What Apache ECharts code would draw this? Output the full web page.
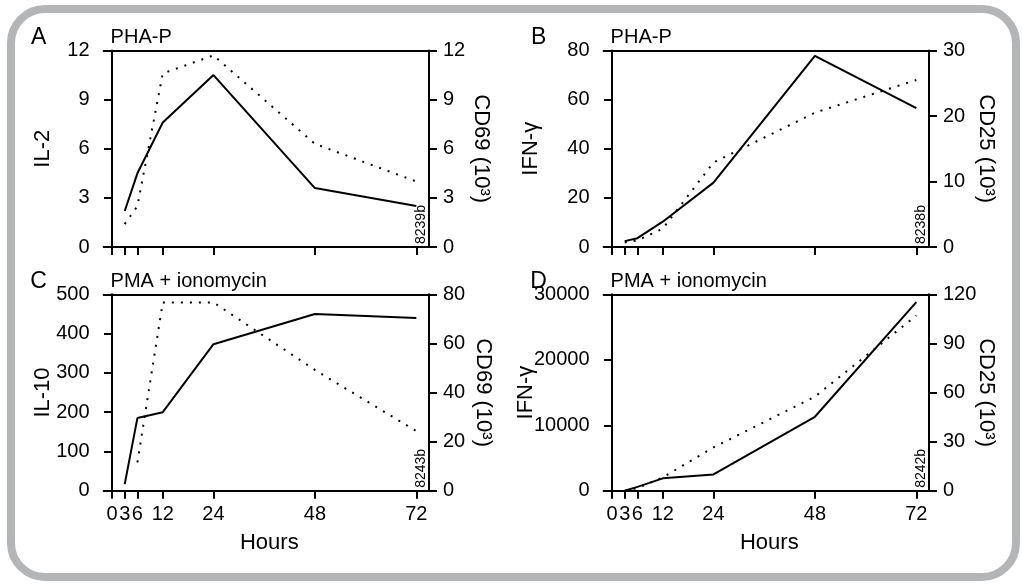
<!DOCTYPE html>
<html>
<head>
<meta charset="utf-8">
<title>Cytokine and activation marker kinetics</title>
<script src="https://cdn.jsdelivr.net/npm/echarts@6/dist/echarts.min.js"></script>
<style>
  html, body { margin: 0; padding: 0; background: #fff; }
  #chart { width: 1022px; height: 587px; }
</style>
</head>
<body>
<div id="chart"></div>
<script>
// time points (hours) and tick marks on the x axis
const hours = [3, 6, 12, 24, 48, 72];
const hourTicks = [0, 3, 6, 12, 24, 48, 72];

// A: PHA-P, IL-2 (solid) and CD69 x10^3 (dotted)
const il2A = [2.2, 4.5, 7.6, 10.5, 3.6, 2.5];
const cd69A = [1.4, 2.5, 10.6, 11.7, 6.3, 4.0];
// B: PHA-P, IFN-gamma (solid) and CD25 x10^3 (dotted)
const ifngB = [2.4, 3.6, 10.3, 26.2, 77.8, 56.5];
const cd25B = [0.7, 1.0, 2.8, 12.9, 20.5, 25.5];
// C: PMA + ionomycin, IL-10 (solid) and CD69 x10^3 (dotted)
const il10C = [17, 185, 200, 373, 450, 440];
const cd69C = [null, 11.6, 76.7, 76.7, 49.2, 24.3];
// D: PMA + ionomycin, IFN-gamma (solid) and CD25 x10^3 (dotted)
const ifngD = [0, 600, 1900, 2500, 11300, 28800];
const cd25D = [0, 1.6, 8.2, 26.5, 57.5, 107];

const ink = '#000';
const font = '"Liberation Sans", Arial, sans-serif';

const panels = [
  { letter: 'A', title: 'PHA-P', left: 103.6, top: 50.5,
    lName: 'IL-2', lMax: 12, lInt: 3, lGap: 50,
    rName: 'CD69 (10³)', rMax: 12, rInt: 3, rGap: 41,
    solid: il2A, dotted: cd69A, id: '8239b', hoursLabel: false },
  { letter: 'B', title: 'PHA-P', left: 603.6, top: 50.5,
    lName: 'IFN-γ', lMax: 80, lInt: 20, lGap: 62,
    rName: 'CD25 (10³)', rMax: 30, rInt: 10, rGap: 46,
    solid: ifngB, dotted: cd25B, id: '8238b', hoursLabel: false },
  { letter: 'C', title: 'PMA + ionomycin', left: 103.6, top: 294.3,
    lName: 'IL-10', lMax: 500, lInt: 100, lGap: 50,
    rName: 'CD69 (10³)', rMax: 80, rInt: 20, rGap: 43,
    solid: il10C, dotted: cd69C, id: '8243b', hoursLabel: true },
  { letter: 'D', title: 'PMA + ionomycin', left: 603.6, top: 294.3,
    lName: 'IFN-γ', lMax: 30000, lInt: 10000, lGap: 67,
    rName: 'CD25 (10³)', rMax: 120, rInt: 30, rGap: 46,
    solid: ifngD, dotted: cd25D, id: '8242b', hoursLabel: true }
];

const lineW = 2;
const axisLine = { lineStyle: { color: ink, width: lineW } };
const axisTick = { length: 8, lineStyle: { color: ink, width: lineW } };

function pairs(vals) {
  return hours.map((h, i) => [h, vals[i]]);
}

const grid = [], xAxis = [], yAxis = [], series = [], graphic = [];

// grey rounded frame around the whole figure
graphic.push({
  type: 'rect', z: -10,
  shape: { x: 11, y: 9, width: 1005, height: 568, r: 34 },
  style: { fill: '#fff', stroke: '#b4b5b7', lineWidth: 8 }
});

panels.forEach((p, i) => {
  grid.push({ left: p.left, top: p.top, width: 325.4, height: 196.5, outerBoundsMode: 'none' });

  // bottom axis with hour ticks
  xAxis.push({
    gridIndex: i, type: 'value', min: -2, max: 75, position: 'bottom',
    axisLine: { show: true, onZero: false, lineStyle: axisLine.lineStyle },
    axisTick: Object.assign({ customValues: hourTicks }, axisTick),
    axisLabel: { show: p.hoursLabel, customValues: hourTicks, margin: 14,
      color: ink, fontSize: 20, fontFamily: font },
    splitLine: { show: false },
    name: p.hoursLabel ? 'Hours' : '', nameLocation: 'middle', nameGap: 41,
    nameMoveOverlap: false,
    nameTextStyle: { color: ink, fontSize: 22, fontFamily: font, padding: [0, 0, 0, 6] }
  });
  // top frame line
  xAxis.push({
    gridIndex: i, type: 'value', min: -2, max: 75, position: 'top',
    axisLine: { show: true, onZero: false, lineStyle: axisLine.lineStyle },
    axisTick: { show: false }, axisLabel: { show: false }, splitLine: { show: false }
  });

  yAxis.push({
    gridIndex: i, type: 'value', min: 0, max: p.lMax, interval: p.lInt, position: 'left',
    axisLine: { show: true, onZero: true, lineStyle: axisLine.lineStyle },
    axisTick: axisTick,
    axisLabel: { margin: 14, color: ink, fontSize: 20, fontFamily: font, formatter: v => String(v) },
    splitLine: { show: false },
    name: p.lName, nameLocation: 'middle', nameGap: p.lGap, nameMoveOverlap: false,
    nameTextStyle: { color: ink, fontSize: 22, fontFamily: font }
  });
  yAxis.push({
    gridIndex: i, type: 'value', min: 0, max: p.rMax, interval: p.rInt, position: 'right',
    axisLine: { show: true, onZero: false, lineStyle: axisLine.lineStyle },
    axisTick: axisTick,
    axisLabel: { margin: 14, color: ink, fontSize: 20, fontFamily: font, formatter: v => String(v) },
    splitLine: { show: false },
    name: p.rName, nameLocation: 'middle', nameGap: p.rGap, nameRotate: -90, nameMoveOverlap: false,
    nameTextStyle: { color: ink, fontSize: 22, fontFamily: font }
  });

  series.push({
    type: 'line', xAxisIndex: 2 * i, yAxisIndex: 2 * i, data: pairs(p.solid),
    showSymbol: false, lineStyle: { color: ink, width: lineW }, silent: true
  });
  series.push({
    type: 'line', xAxisIndex: 2 * i, yAxisIndex: 2 * i + 1, data: pairs(p.dotted),
    showSymbol: false, connectNulls: false,
    lineStyle: { color: ink, width: lineW, type: [2, 7] }, silent: true
  });

  const bottom = p.top + 196.5;
  const right = p.left + 325.4;
  // panel letter and stimulus title
  graphic.push({
    type: 'text', x: p.left - 65, y: p.top - 13,
    style: { text: p.letter, fill: ink, font: '23px ' + font, align: 'center', verticalAlign: 'middle' }
  });
  graphic.push({
    type: 'text', x: p.left + 7, y: p.top - 13,
    style: { text: p.title, fill: ink, font: '20px ' + font, align: 'left', verticalAlign: 'middle' }
  });
  // small figure id, written upward in the lower right corner
  graphic.push({
    type: 'text', x: right - 8, y: bottom - 3, rotation: Math.PI / 2,
    style: { text: p.id, fill: ink, font: '14px ' + font, align: 'left', verticalAlign: 'middle' }
  });
});

const chart = echarts.init(document.getElementById('chart'), null, { renderer: 'canvas' });
chart.setOption({
  animation: false,
  backgroundColor: '#fff',
  grid: grid,
  xAxis: xAxis,
  yAxis: yAxis,
  series: series,
  graphic: graphic
});
</script>
</body>
</html>
